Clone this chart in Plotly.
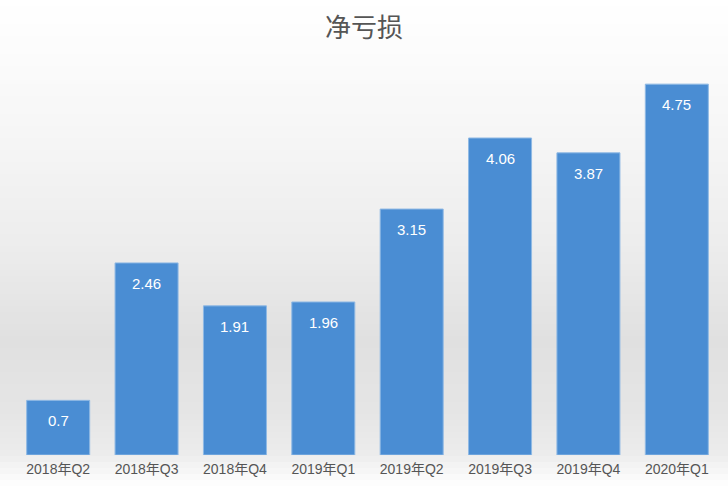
import plotly.graph_objects as go

categories = ["2018年Q2", "2018年Q3", "2018年Q4", "2019年Q1", "2019年Q2", "2019年Q3", "2019年Q4", "2020年Q1"]
values = [0.7, 2.46, 1.91, 1.96, 3.15, 4.06, 3.87, 4.75]
labels = ["0.7", "2.46", "1.91", "1.96", "3.15", "4.06", "3.87", "4.75"]

W, H = 728, 490
M_T, M_B, M_L, M_R = 49, 35, 14, 7
plot_h = H - M_T - M_B


def hexmix(c1, c2, t):
    a = [int(c1[i:i + 2], 16) for i in (1, 3, 5)]
    b = [int(c2[i:i + 2], 16) for i in (1, 3, 5)]
    return "#%02x%02x%02x" % tuple(round(a[k] + (b[k] - a[k]) * t) for k in range(3))


# background gradient stops (pixel y from top, colour)
stops = [(0, "#ffffff"), (120, "#f7f7f7"), (250, "#ececec"), (340, "#e0e0e0"),
         (420, "#e6e6e6"), (455, "#ececec"), (478, "#fbfbfb"), (490, "#ffffff")]

shapes = []
step = 6
for py in range(0, H, step):
    for (y0, c0), (y1, c1) in zip(stops[:-1], stops[1:]):
        if y0 <= py + step / 2 <= y1:
            col = hexmix(c0, c1, (py + step / 2 - y0) / (y1 - y0))
            break
    top = (H - M_B - py) / plot_h
    bot = (H - M_B - py - step) / plot_h
    shapes.append(dict(type="rect", xref="paper", yref="paper",
                       x0=-M_L / (W - M_L - M_R), x1=1 + M_R / (W - M_L - M_R),
                       y0=bot, y1=top, fillcolor=col, line=dict(width=0),
                       layer="below"))

fig = go.Figure()
fig.add_trace(go.Bar(
    x=categories, y=values,
    marker=dict(color="#4a8dd3", line=dict(color="#8fb9e4", width=1)),
    hoverinfo="skip",
))

annotations = []
for c, v, t in zip(categories, values, labels):
    annotations.append(dict(x=c, y=v, xref="x", yref="y", text=t, showarrow=False,
                            yanchor="top", yshift=-10,
                            font=dict(family="Liberation Sans, Arial, sans-serif", size=15, color="#ffffff")))

fig.update_layout(
    width=W, height=H,
    margin=dict(t=M_T, b=M_B, l=M_L, r=M_R),
    paper_bgcolor="#ffffff",
    plot_bgcolor="rgba(0,0,0,0)",
    title=dict(text="净亏损", x=0.5, xanchor="center", y=1 - 28 / H, yanchor="middle",
               font=dict(family="Noto Sans CJK SC", size=26, color="#555555")),
    bargap=0.287,
    showlegend=False,
    shapes=shapes,
    annotations=annotations,
    xaxis=dict(showgrid=False, showline=False, zeroline=False, ticks="",
               ticklabelstandoff=4,
               tickfont=dict(family="Liberation Sans, Noto Sans CJK SC, sans-serif", size=14, color="#555555")),
    yaxis=dict(range=[0, 5.2], visible=False, showgrid=False, zeroline=False),
)

fig.write_html("out.html")
